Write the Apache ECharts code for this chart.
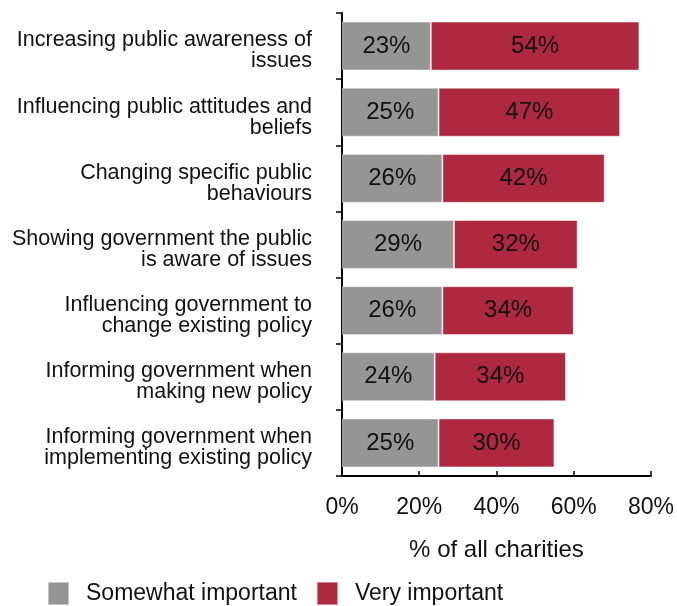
<!DOCTYPE html>
<html>
<head>
<meta charset="utf-8">
<script src="https://cdn.jsdelivr.net/npm/echarts@6/dist/echarts.min.js"></script>
<style>
  html, body { margin: 0; padding: 0; background: #ffffff; }
  #chart { width: 677px; height: 606px; }
</style>
</head>
<body>
<div id="chart"></div>
<script>
// Purposes of campaigning, share of charities rating each as important
var categories = [
  'Increasing public awareness of\nissues',
  'Influencing public attitudes and\nbeliefs',
  'Changing specific public\nbehaviours',
  'Showing government the public\nis aware of issues',
  'Influencing government to\nchange existing policy',
  'Informing government when\nmaking new policy',
  'Informing government when\nimplementing existing policy'
];
var somewhatImportant = [23, 25, 26, 29, 26, 24, 25];
var veryImportant = [54, 47, 42, 32, 34, 34, 30];
var seriesNames = ['Somewhat important', 'Very important'];
var axisTitle = '% of all charities';

var FONT = '"Liberation Sans", Arial, Helvetica, sans-serif';
var GREY = '#959595';
var RED = '#ae2840';

var chart = echarts.init(document.getElementById('chart'), null, { renderer: 'canvas' });

function barSeries(name, values, color) {
  return {
    name: name,
    type: 'bar',
    stack: 'total',
    data: values,
    barCategoryGap: '26%',
    itemStyle: { color: color, borderColor: 'rgba(255,255,255,0.45)', borderWidth: 1 },
    label: {
      show: true,
      position: 'inside',
      formatter: '{c}%',
      color: '#111111',
      fontFamily: FONT,
      fontSize: 24
    },
    emphasis: { disabled: true }
  };
}

chart.setOption({
  animation: false,
  backgroundColor: '#ffffff',
  grid: { left: 342, right: 25, top: 13, bottom: 130, containLabel: false },
  legend: {
    data: seriesNames,
    left: 42,
    top: 576,
    icon: 'rect',
    itemWidth: 21,
    itemHeight: 23,
    itemGap: 19,
    textStyle: { fontFamily: FONT, fontSize: 23, color: '#111111', padding: [0, 0, 0, 12] }
  },
  xAxis: {
    type: 'value',
    min: 0,
    max: 80,
    interval: 20,
    name: axisTitle,
    nameLocation: 'middle',
    nameGap: 62,
    nameTextStyle: { fontFamily: FONT, fontSize: 24, color: '#111111' },
    axisLine: { show: true, lineStyle: { color: '#000000', width: 2 } },
    axisTick: { show: true, inside: true, length: 5, lineStyle: { color: '#000000', width: 1.5 } },
    axisLabel: { formatter: '{value}%', fontFamily: FONT, fontSize: 23, color: '#111111', margin: 20 },
    splitLine: { show: false }
  },
  yAxis: {
    type: 'category',
    data: categories,
    inverse: true,
    axisLine: { show: true, lineStyle: { color: '#000000', width: 2 } },
    axisTick: { show: true, length: 6, lineStyle: { color: '#000000', width: 1.5 } },
    axisLabel: {
      fontFamily: FONT, fontSize: 21.5, lineHeight: 21, color: '#111111',
      margin: 30, align: 'right',
      // a short empty first line nudges the two text lines a little below the band centre
      formatter: function (v) { return '{s|}\n' + v; },
      rich: { s: { height: 10, lineHeight: 10 } }
    }
  },
  series: [
    barSeries(seriesNames[0], somewhatImportant, GREY),
    barSeries(seriesNames[1], veryImportant, RED)
  ]
});
</script>
</body>
</html>
